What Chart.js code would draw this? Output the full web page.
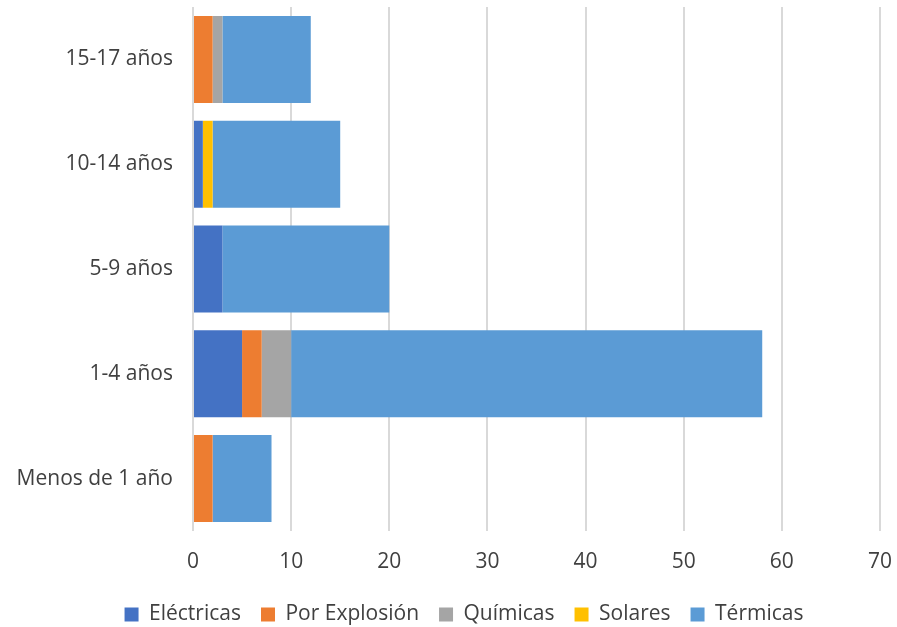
<!DOCTYPE html>
<html>
<head>
<meta charset="utf-8">
<script src="https://cdn.jsdelivr.net/npm/chart.js@4"></script>
<style>
  html, body { margin: 0; padding: 0; background: #fff; }
  #wrap { width: 897px; height: 627px; position: relative; }
</style>
</head>
<body>
<div id="wrap"><canvas id="chart"></canvas></div>
<script>
const grupos = ["15-17 años", "10-14 años", "5-9 años", "1-4 años", "Menos de 1 año"];
const electricas = [0, 1, 3, 5, 0];
const explosion = [2, 0, 0, 2, 2];
const quimicas = [1, 0, 0, 3, 0];
const solares = [0, 1, 0, 0, 0];
const termicas = [9, 13, 17, 48, 6];
const ticksX = [0, 10, 20, 30, 40, 50, 60, 70];

const fuente = "'Open Sans', 'Liberation Sans', sans-serif";
const gris = "#404040";

function serie(nombre, datos, color) {
    return { label: nombre, data: datos, backgroundColor: color, borderWidth: 0 };
}

const data = {
    labels: grupos,
    datasets: [
        serie("Eléctricas", electricas, "#4472c4"),
        serie("Por Explosión", explosion, "#ed7d31"),
        serie("Químicas", quimicas, "#a5a5a5"),
        serie("Solares", solares, "#ffc000"),
        serie("Térmicas", termicas, "#5b9bd5")
    ]
};

// corre la leyenda un poco a la derecha, centrada como en Excel
const moverLeyenda = {
    id: "moverLeyenda",
    afterLayout: function(chart) {
        chart.legend.left += 24;
        chart.legend.right += 24;
    }
};

new Chart(document.getElementById("chart"), {
    type: "bar",
    data: data,
    plugins: [moverLeyenda],
    options: {
        indexAxis: "y",
        responsive: true,
        maintainAspectRatio: false,
        animation: false,
        layout: { padding: { top: 7, right: 17, bottom: -8, left: 0 } },
        datasets: { bar: { categoryPercentage: 1, barPercentage: 0.83 } },
        scales: {
            x: {
                stacked: true,
                min: 0,
                max: 70,
                afterBuildTicks: function(scale) {
                    scale.ticks = ticksX.map(function(v) { return { value: v }; });
                },
                grid: { color: "#d9d9d9", lineWidth: 2, drawTicks: false },
                border: { display: false },
                ticks: { color: gris, font: { family: fuente, size: 21 }, padding: 18 },
                afterFit: function(scale) {
                    scale.paddingLeft = 0;
                    scale.paddingRight = 0;
                    scale.height = 53;
                }
            },
            y: {
                stacked: true,
                grid: { display: false },
                border: { display: false },
                ticks: { color: gris, font: { family: fuente, size: 21 }, padding: 12 },
                afterFit: function(scale) {
                    scale.width = 193;
                    scale.paddingTop = 0;
                    scale.paddingBottom = 0;
                }
            }
        },
        plugins: {
            tooltip: { enabled: false },
            legend: {
                position: "bottom",
                labels: {
                    color: gris,
                    font: { family: fuente, size: 21 },
                    boxWidth: 14,
                    boxHeight: 14,
                    padding: 20
                }
            }
        }
    }
});
</script>
</body>
</html>
